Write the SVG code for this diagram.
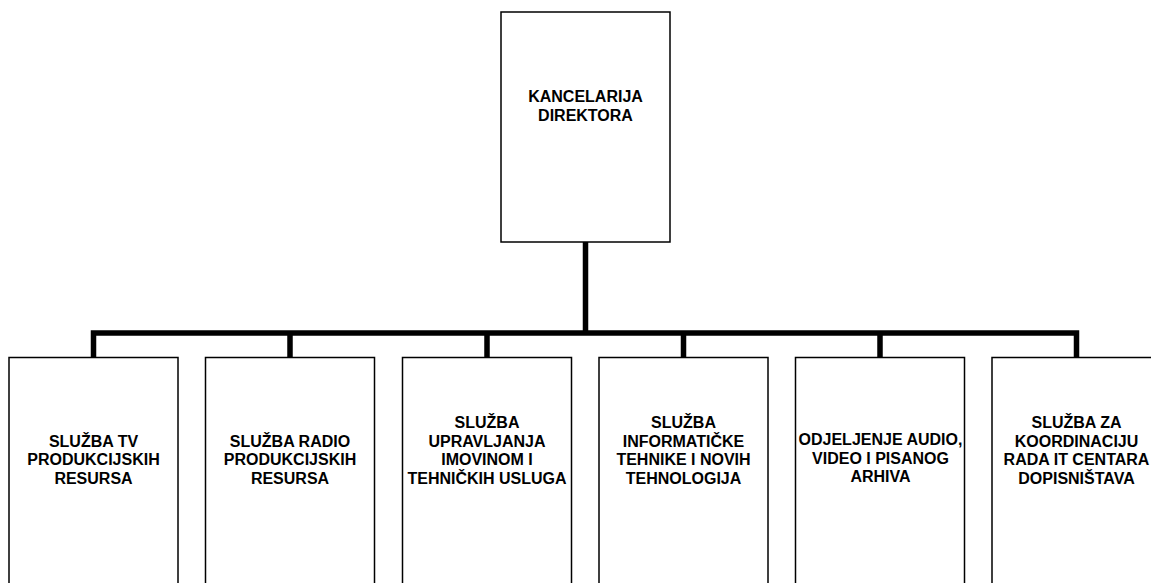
<svg xmlns="http://www.w3.org/2000/svg" width="1151" height="583" viewBox="0 0 1151 583">
<style>
.box{fill:#fff;stroke:#000;stroke-width:1.5}
.t{font-family:"Liberation Sans",Arial,sans-serif;font-weight:bold;font-size:16px;text-anchor:middle;fill:#000}
.c{fill:none;stroke:#000;stroke-width:5.5;stroke-linecap:square;stroke-linejoin:miter}
</style>
<rect width="1151" height="583" fill="#fff"/>
<g id="connectors">
<path class="c" d="M585.5,243 V333 M93.5,357 V333 H1076.5 V357 M290,333 V357 M487,333 V357 M683.5,333 V357 M880,333 V357"/>
</g>
<g id="n0">
<rect class="box" x="501" y="12" width="169" height="230"/>
<text class="t" x="585.5" y="102">KANCELARIJA</text>
<text class="t" x="585.5" y="121">DIREKTORA</text>
</g>
<g id="n1">
<rect class="box" x="9" y="357.5" width="169" height="240"/>
<text class="t" x="93.5" y="446.5">SLUŽBA TV</text>
<text class="t" x="93.5" y="465">PRODUKCIJSKIH</text>
<text class="t" x="93.5" y="483.5">RESURSA</text>
</g>
<g id="n2">
<rect class="box" x="205.5" y="357.5" width="169" height="240"/>
<text class="t" x="290" y="446.5">SLUŽBA RADIO</text>
<text class="t" x="290" y="465">PRODUKCIJSKIH</text>
<text class="t" x="290" y="483.5">RESURSA</text>
</g>
<g id="n3">
<rect class="box" x="402.5" y="357.5" width="169" height="240"/>
<text class="t" x="487" y="428">SLUŽBA</text>
<text class="t" x="487" y="446.5">UPRAVLJANJA</text>
<text class="t" x="487" y="465">IMOVINOM I</text>
<text class="t" x="487" y="483.5">TEHNIČKIH USLUGA</text>
</g>
<g id="n4">
<rect class="box" x="599" y="357.5" width="169" height="240"/>
<text class="t" x="683.5" y="428">SLUŽBA</text>
<text class="t" x="683.5" y="446.5">INFORMATIČKE</text>
<text class="t" x="683.5" y="465">TEHNIKE I NOVIH</text>
<text class="t" x="683.5" y="483.5">TEHNOLOGIJA</text>
</g>
<g id="n5">
<rect class="box" x="795.5" y="357.5" width="169" height="240"/>
<text class="t" x="880.5" y="445">ODJELJENJE AUDIO,</text>
<text class="t" x="880.5" y="463.5">VIDEO I PISANOG</text>
<text class="t" x="880.5" y="482">ARHIVA</text>
</g>
<g id="n6">
<rect class="box" x="992" y="357.5" width="169" height="240"/>
<text class="t" x="1076.5" y="428">SLUŽBA ZA</text>
<text class="t" x="1076.5" y="446.5">KOORDINACIJU</text>
<text class="t" x="1076.5" y="465">RADA IT CENTARA</text>
<text class="t" x="1076.5" y="483.5">DOPISNIŠTAVA</text>
</g>
</svg>
